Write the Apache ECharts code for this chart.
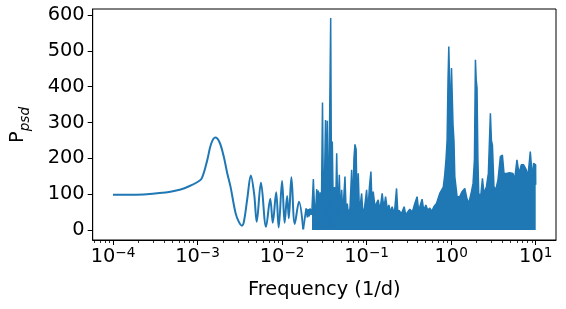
<!DOCTYPE html>
<html>
<head>
<meta charset="utf-8">
<script src="https://cdn.jsdelivr.net/npm/echarts@6/dist/echarts.min.js"></script>
<style>
html,body{margin:0;padding:0;background:#fff;}
#chart{width:566px;height:309px;}
</style>
</head>
<body>
<div id="chart"></div>
<script>
// Frequencies are stored as log10(frequency in 1/d).
const smoothLogFreq = [-4.00,-3.80,-3.60,-3.45,-3.32,-3.20,-3.10,-3.00,-2.95,-2.885,-2.84,-2.79,-2.74,-2.69,-2.65,-2.61,-2.55,-2.51,-2.475,-2.45,-2.41,-2.37,-2.33,-2.30,-2.25,-2.19,-2.14,-2.11,-2.07,-2.04,-2.00,-1.97,-1.94,-1.92,-1.89,-1.85,-1.80,-1.75];
const smoothPower   = [98,98.5,100,103,107,113,122,134,144,195,240,258,245,205,160,121,47,22,12,25,90,152,100,23,132,9,87,20,105,7,137,20,95,33,147,17,79,2];

const noisyLogFreq = [-1.75,-1.727,-1.715,-1.70,-1.69,-1.68,-1.67,-1.655,-1.646];
const noisyPower   = [2,40,60,35,58,38,60,42,60];

const denseLogFreq = [-1.646,-1.630,-1.610,-1.590,-1.581,-1.571,-1.561,-1.551,-1.537,-1.522,-1.508,-1.486,-1.475,-1.465,-1.451,-1.425,-1.414,-1.406,-1.394,-1.380,-1.368,-1.354,-1.341,-1.323,-1.309,-1.295,-1.282,-1.256,-1.242,-1.229,-1.215,-1.197,-1.177,-1.162,-1.150,-1.138,-1.124,-1.112,-1.099,-1.085,-1.059,-1.044,-1.026,-1.000,-0.985,-0.967,-0.949,-0.934,-0.922,-0.902,-0.882,-0.863,-0.843,-0.816,-0.796,-0.776,-0.754,-0.737,-0.717,-0.698,-0.672,-0.646,-0.630,-0.615,-0.589,-0.556,-0.536,-0.521,-0.489,-0.459,-0.430,-0.403,-0.385,-0.371,-0.344,-0.324,-0.300,-0.276,-0.253,-0.229,-0.205,-0.174,-0.152,-0.135,-0.115,-0.093,-0.076,-0.060,-0.048,-0.037,-0.028,-0.017,-0.008,0.004,0.013,0.022,0.033,0.043,0.070,0.102,0.129,0.149,0.161,0.184,0.208,0.240,0.259,0.275,0.287,0.296,0.306,0.316,0.326,0.349,0.370,0.388,0.417,0.440,0.453,0.464,0.476,0.488,0.497,0.506,0.527,0.554,0.582,0.606,0.625,0.653,0.674,0.692,0.712,0.731,0.751,0.778,0.802,0.830,0.857,0.889,0.908,0.936,0.960,0.975,0.999,1.000];
const densePower   = [60,142,25,114,20,110,15,105,5,356,5,307,40,305,10,592,30,247,45,120,40,214,45,154,40,112,45,149,50,74,45,60,168,55,200,239,225,50,158,50,102,45,60,112,50,120,163,55,107,65,61,84,55,102,60,93,55,70,50,65,45,116,45,55,45,65,40,48,58,50,74,93,55,65,86,55,70,55,61,52,65,74,70,102,102,120,154,200,251,420,512,510,300,452,452,293,250,149,93,93,107,110,116,90,74,107,130,196,475,420,396,200,102,93,144,102,121,158,250,326,250,237,180,121,112,140,205,209,158,158,155,160,162,158,140,196,158,182,182,168,149,219,144,186,182,126];

const yTicks = [0,100,200,300,400,500,600];
const xMajorExp = [-4,-3,-2,-1,0,1];

const X_MIN = -4.24, X_MAX = 1.24;
const minorTicks = [];
for (let d = -5; d <= 1; d++) {
  for (let k = 2; k <= 9; k++) {
    const v = d + Math.log10(k);
    if (v > X_MIN && v < X_MAX) minorTicks.push(v);
  }
}

const zip = (a, b) => a.map((v, i) => [v, b[i]]);
const BLUE = '#1f77b4';
const FONT = 'DejaVu Sans';
const FS = 19.4;

const chart = echarts.init(document.getElementById('chart'), null, {renderer: 'canvas'});
chart.setOption({
  animation: false,
  backgroundColor: '#fff',
  grid: {left: 92.7, right: 10, top: 9, bottom: 69, show: true, borderColor: '#000', borderWidth: 1, backgroundColor: 'transparent'},
  xAxis: [
    {
      type: 'value', min: X_MIN, max: X_MAX, position: 'bottom',
      axisLine: {show: true, onZero: false, lineStyle: {color: '#000', width: 1}},
      axisTick: {show: true, customValues: xMajorExp, length: 5, lineStyle: {color: '#000', width: 1}},
      axisLabel: {
        customValues: xMajorExp, margin: 6, color: '#000',
        formatter: v => '{b|10}{e|' + (v < 0 ? '\u2212' + (-v) : String(v)) + '}',
        rich: {
          b: {fontFamily: FONT, fontSize: FS, color: '#000', padding: [6, 0, 0, 0], verticalAlign: 'bottom', lineHeight: 20},
          e: {fontFamily: FONT, fontSize: 13.6, color: '#000', verticalAlign: 'top', lineHeight: 14}
        }
      },
      splitLine: {show: false}
    },
    {
      type: 'value', min: X_MIN, max: X_MAX, position: 'bottom',
      axisLine: {show: false, onZero: false},
      axisTick: {show: true, customValues: minorTicks, length: 3, lineStyle: {color: '#000', width: 0.8}},
      axisLabel: {show: false},
      splitLine: {show: false}
    }
  ],
  yAxis: {
    type: 'value', min: -28, max: 617,
    axisLine: {show: true, onZero: false, lineStyle: {color: '#000', width: 1}},
    axisTick: {show: true, customValues: yTicks, length: 5, lineStyle: {color: '#000', width: 1}},
    axisLabel: {customValues: yTicks, margin: 8, color: '#000', fontFamily: FONT, fontSize: FS},
    splitLine: {show: false}
  },
  graphic: [
    {type: 'text', x: 324.3, y: 290, style: {text: 'Frequency (1/d)', font: FS + 'px "DejaVu Sans"', fill: '#000', align: 'center', verticalAlign: 'middle'}},
    {type: 'text', x: 19, y: 125, rotation: Math.PI / 2,
     style: {text: '{p|P}{s|psd}', align: 'center', verticalAlign: 'middle',
       rich: {
         p: {fontFamily: FONT, fontSize: FS, fill: '#000', color: '#000', lineHeight: 22, verticalAlign: 'top'},
         s: {fontFamily: FONT, fontSize: 13.6, fontStyle: 'italic', color: '#000', lineHeight: 14, padding: [10, 0, 0, 0], verticalAlign: 'top'}
       }}}
  ],
  series: [
    {type: 'line', xAxisIndex: 0, data: zip(smoothLogFreq, smoothPower), smooth: 0.35, symbol: 'none', lineStyle: {color: BLUE, width: 2}, clip: true},
    {type: 'line', xAxisIndex: 0, data: zip(noisyLogFreq, noisyPower), symbol: 'none', lineStyle: {color: BLUE, width: 1.8}, clip: true},
    {type: 'line', xAxisIndex: 0, data: zip(denseLogFreq, densePower), symbol: 'none', lineStyle: {color: BLUE, width: 1.5}, areaStyle: {color: BLUE, opacity: 1, origin: 0}, clip: true}
  ]
});
</script>
</body>
</html>
